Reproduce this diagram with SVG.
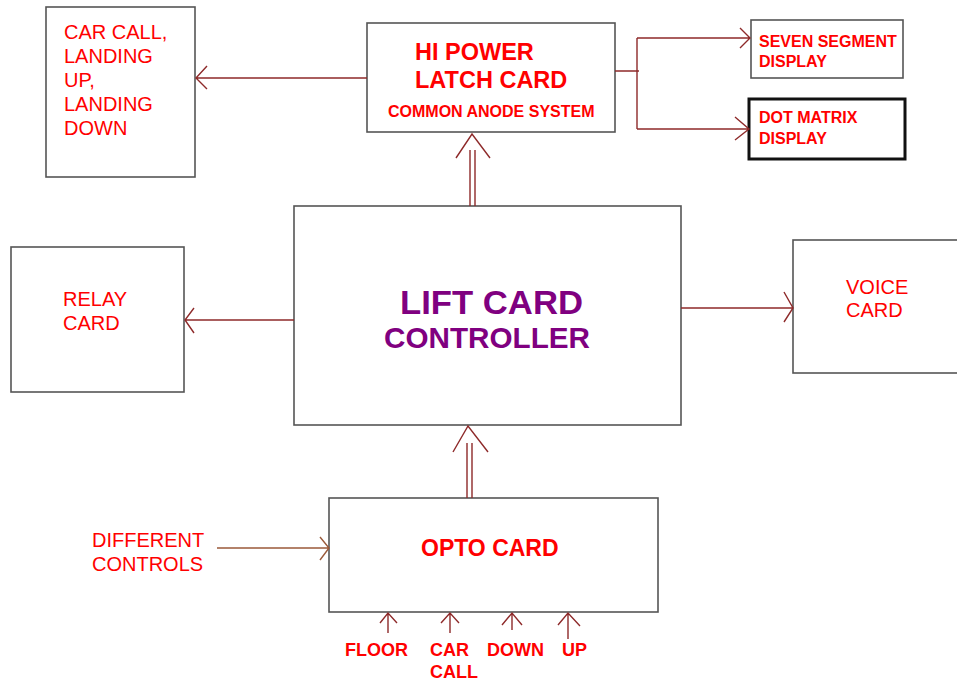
<svg xmlns="http://www.w3.org/2000/svg" width="957" height="685" viewBox="0 0 957 685">
<style>
.box{fill:#fff;stroke:#555;stroke-width:1.6}
.thick{fill:#fff;stroke:#111;stroke-width:3}
.t{font-family:"Liberation Sans",Arial,sans-serif;fill:#ff0000}
.r{font-size:20px}
.b{font-weight:bold}
.p{fill:#800080;font-weight:bold}
.c{fill:none;stroke:#8e2a2a;stroke-width:1.4}
.cb{fill:none;stroke:#9a5a3a;stroke-width:1.4}
</style>
<rect width="957" height="685" fill="#fff"/>
<g id="carcall">
<rect class="box" x="46" y="7" width="149" height="170"/>
<text class="t r" x="64" y="39">CAR CALL,</text>
<text class="t r" x="64" y="63">LANDING</text>
<text class="t r" x="64" y="87">UP,</text>
<text class="t r" x="64" y="111">LANDING</text>
<text class="t r" x="64" y="135">DOWN</text>
</g>
<g id="hipower">
<rect class="box" x="367" y="23" width="248" height="109"/>
<text class="t b" x="415" y="60" font-size="23.5">HI POWER</text>
<text class="t b" x="415" y="88" font-size="23.5">LATCH CARD</text>
<text class="t b" x="388" y="117" font-size="16">COMMON ANODE SYSTEM</text>
</g>
<g id="seven">
<rect class="box" x="751" y="20" width="152" height="58"/>
<text class="t b" x="759" y="47" font-size="16">SEVEN SEGMENT</text>
<text class="t b" x="759" y="67" font-size="16">DISPLAY</text>
</g>
<g id="dotmatrix">
<rect class="thick" x="749" y="99" width="156" height="60"/>
<text class="t b" x="759" y="123" font-size="16">DOT MATRIX</text>
<text class="t b" x="759" y="144" font-size="16">DISPLAY</text>
</g>
<g id="relay">
<rect class="box" x="11" y="247" width="173" height="145"/>
<text class="t r" x="63" y="306">RELAY</text>
<text class="t r" x="63" y="330">CARD</text>
</g>
<g id="lift">
<rect class="box" x="294" y="206" width="387" height="219"/>
<text class="t p" x="400" y="314" font-size="33" textLength="183" lengthAdjust="spacingAndGlyphs">LIFT CARD</text>
<text class="t p" x="384" y="348" font-size="29.5" textLength="206" lengthAdjust="spacingAndGlyphs">CONTROLLER</text>
</g>
<g id="voice">
<rect class="box" x="793" y="240" width="170" height="133"/>
<text class="t r" x="846" y="294">VOICE</text>
<text class="t r" x="846" y="317">CARD</text>
</g>
<g id="opto">
<rect class="box" x="329" y="498" width="329" height="114"/>
<text class="t b" x="421" y="556" font-size="23">OPTO CARD</text>
</g>
<g id="labels">
<text class="t r" x="92" y="547">DIFFERENT</text>
<text class="t r" x="92" y="571">CONTROLS</text>
<text class="t b" x="345" y="656" font-size="18">FLOOR</text>
<text class="t b" x="430" y="656" font-size="18">CAR</text>
<text class="t b" x="430" y="678" font-size="18">CALL</text>
<text class="t b" x="487" y="656" font-size="18">DOWN</text>
<text class="t b" x="562" y="656" font-size="18">UP</text>
</g>
<g id="connectors">
<!-- HI POWER -> CAR CALL -->
<path class="c" d="M367 78 H196 M207 66 L196 78 L207 89"/>
<!-- branch to displays -->
<path class="c" d="M615 71 H639 M637 38 V129 M637 38 H750 M740 28 L750 38 L740 48 M637 129 H749 M735 117 L749 129 L735 140"/>
<!-- LIFT -> HI POWER double -->
<path class="c" d="M470 150 V206 M475 150 V206 M456 158 L472 134 L490 158"/>
<!-- LIFT -> RELAY -->
<path class="c" d="M294 320 H185 M194 308 L185 320 L194 333"/>
<!-- LIFT -> VOICE -->
<path class="c" d="M681 308 H793 M784 292 L793 308 L784 322"/>
<!-- OPTO -> LIFT double -->
<path class="c" d="M467 443 V498 M472 443 V498 M453 452 L468 426 L488 452"/>
<!-- DIFFERENT -> OPTO -->
<path class="cb" d="M217 548 H329 M320 537 L329 548 L320 560"/>
<!-- bottom inputs -->
<path class="c" d="M388 633 V613 M380 623 L388 613 L397 623"/>
<path class="c" d="M450 633 V613 M441 623 L450 613 L459 623"/>
<path class="c" d="M512 630 V613 M502 625 L512 613 L522 625"/>
<path class="c" d="M568 639 V613 M558 625 L568 613 L580 626"/>
</g>
</svg>
